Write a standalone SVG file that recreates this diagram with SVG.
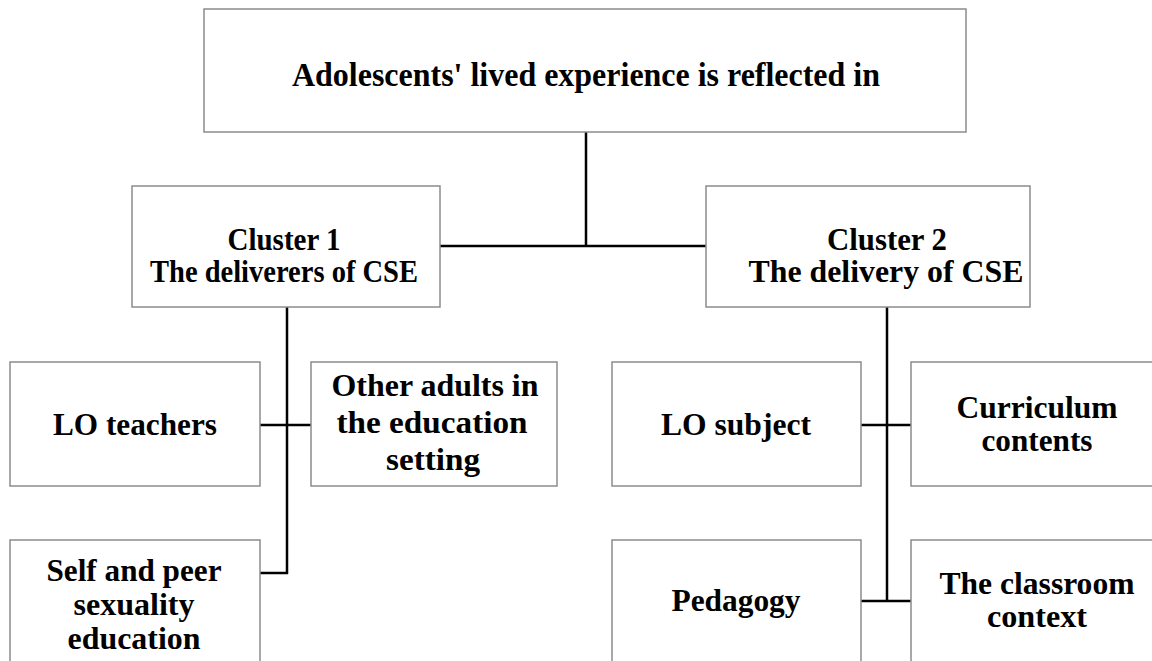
<svg xmlns="http://www.w3.org/2000/svg" width="1152" height="661" viewBox="0 0 1152 661">
<defs>
<style>
.box{fill:#fff;stroke:#8c8c8c;stroke-width:1.5}
.c{stroke:#000;stroke-width:2.5;fill:none}
text{font-family:"Liberation Serif","Times New Roman",serif;font-weight:bold;font-size:31px;fill:#000;text-anchor:middle}
</style>
</defs>
<rect width="1152" height="661" fill="#fff"/>
<g id="connectors">
<path class="c" d="M586 132V246M440 246H706"/>
<path class="c" d="M287 307V574M260 425H311M260 573H288"/>
<path class="c" d="M887 307V601M861 425H911M861 601H911"/>
</g>
<g id="root"><rect class="box" x="204" y="9" width="762" height="123"/><text x="586" y="86" style="font-size:33px" textLength="588" lengthAdjust="spacingAndGlyphs">Adolescents' lived experience is reflected in</text></g>
<g id="cluster1"><rect class="box" x="132" y="186" width="308" height="121"/><text x="284" y="250" textLength="113" lengthAdjust="spacingAndGlyphs">Cluster 1</text><text x="284" y="282" textLength="268" lengthAdjust="spacingAndGlyphs">The deliverers of CSE</text></g>
<g id="cluster2"><rect class="box" x="706" y="186" width="324" height="121"/><text x="887" y="250" textLength="120" lengthAdjust="spacingAndGlyphs">Cluster 2</text><text x="886" y="282" textLength="275" lengthAdjust="spacingAndGlyphs">The delivery of CSE</text></g>
<g id="lo-teachers"><rect class="box" x="10" y="362" width="250" height="124"/><text x="135" y="435" textLength="164" lengthAdjust="spacingAndGlyphs">LO teachers</text></g>
<g id="other-adults"><rect class="box" x="311" y="362" width="246" height="124"/><text x="435" y="396" textLength="207" lengthAdjust="spacingAndGlyphs">Other adults in</text><text x="432" y="433" textLength="191" lengthAdjust="spacingAndGlyphs">the education</text><text x="433" y="470" textLength="94" lengthAdjust="spacingAndGlyphs">setting</text></g>
<g id="self-peer"><rect class="box" x="10" y="540" width="250" height="130"/><text x="134" y="581" textLength="175" lengthAdjust="spacingAndGlyphs">Self and peer</text><text x="134" y="615" textLength="121" lengthAdjust="spacingAndGlyphs">sexuality</text><text x="134" y="649" textLength="133" lengthAdjust="spacingAndGlyphs">education</text></g>
<g id="lo-subject"><rect class="box" x="612" y="362" width="249" height="124"/><text x="736" y="435" textLength="150" lengthAdjust="spacingAndGlyphs">LO subject</text></g>
<g id="curriculum"><rect class="box" x="911" y="362" width="250" height="124"/><text x="1037" y="418" textLength="161" lengthAdjust="spacingAndGlyphs">Curriculum</text><text x="1037" y="451" textLength="111" lengthAdjust="spacingAndGlyphs">contents</text></g>
<g id="pedagogy"><rect class="box" x="612" y="540" width="249" height="130"/><text x="736" y="611" textLength="129" lengthAdjust="spacingAndGlyphs">Pedagogy</text></g>
<g id="classroom"><rect class="box" x="911" y="540" width="250" height="130"/><text x="1037" y="594" textLength="195" lengthAdjust="spacingAndGlyphs">The classroom</text><text x="1037" y="627" textLength="100" lengthAdjust="spacingAndGlyphs">context</text></g>
</svg>
